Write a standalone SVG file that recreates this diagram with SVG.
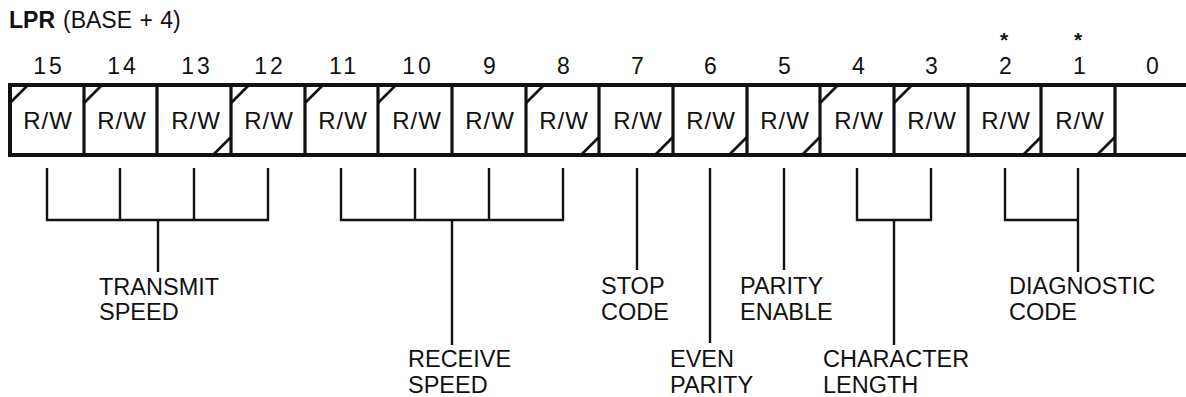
<svg xmlns="http://www.w3.org/2000/svg" width="1186" height="397" viewBox="0 0 1186 397">
<style>
text{font-family:"Liberation Sans",Arial,Helvetica,sans-serif;fill:#111}
.t{font-size:23px}
.n{font-size:23px;text-anchor:middle;letter-spacing:3px}
.ast{font-size:21px;text-anchor:middle;font-weight:bold}
.rw{font-size:24px;text-anchor:middle;letter-spacing:1px}
.lb{font-size:23.5px}
.box{stroke:#111;stroke-width:4;fill:none}
.div{stroke:#111;stroke-width:3.2}
.tick{stroke:#111;stroke-width:2.6}
.con{stroke:#111;stroke-width:2.4;fill:none}
</style>
<rect width="1186" height="397" fill="#fff"/>
<g id="title">
<text class="t" x="9" y="28"><tspan font-weight="bold">LPR</tspan><tspan x="63" word-spacing="1">(BASE + 4)</tspan></text>
</g>
<g id="bitnumbers">
<text class="n" x="49" y="74">15</text>
<text class="n" x="123" y="74">14</text>
<text class="n" x="197" y="74">13</text>
<text class="n" x="270" y="74">12</text>
<text class="n" x="344" y="74">11</text>
<text class="n" x="418" y="74">10</text>
<text class="n" x="491" y="74">9</text>
<text class="n" x="565" y="74">8</text>
<text class="n" x="639" y="74">7</text>
<text class="n" x="712" y="74">6</text>
<text class="n" x="786" y="74">5</text>
<text class="n" x="860" y="74">4</text>
<text class="n" x="933" y="74">3</text>
<text class="n" x="1007" y="74">2</text>
<text class="n" x="1081" y="74">1</text>
<text class="n" x="1154" y="74">0</text>
<text class="ast" x="1004" y="47">*</text>
<text class="ast" x="1078" y="47">*</text>
</g>
<g id="register">
<path class="box" d="M1186,85 H10 V155 H1186"/>
<g class="div">
<line x1="84" y1="85" x2="84" y2="155"/>
<line x1="157" y1="85" x2="157" y2="155"/>
<line x1="231" y1="85" x2="231" y2="155"/>
<line x1="305" y1="85" x2="305" y2="155"/>
<line x1="378" y1="85" x2="378" y2="155"/>
<line x1="452" y1="85" x2="452" y2="155"/>
<line x1="526" y1="85" x2="526" y2="155"/>
<line x1="599" y1="85" x2="599" y2="155"/>
<line x1="673" y1="85" x2="673" y2="155"/>
<line x1="747" y1="85" x2="747" y2="155"/>
<line x1="820" y1="85" x2="820" y2="155"/>
<line x1="894" y1="85" x2="894" y2="155"/>
<line x1="968" y1="85" x2="968" y2="155"/>
<line x1="1041" y1="85" x2="1041" y2="155"/>
<line x1="1115" y1="85" x2="1115" y2="155"/>
</g>
<g class="tick">
<line x1="10" y1="103" x2="28" y2="85"/>
<line x1="84" y1="103" x2="102" y2="85"/>
<line x1="231" y1="103" x2="249" y2="85"/>
<line x1="305" y1="103" x2="323" y2="85"/>
<line x1="378" y1="103" x2="396" y2="85"/>
<line x1="526" y1="103" x2="544" y2="85"/>
<line x1="820" y1="103" x2="838" y2="85"/>
<line x1="894" y1="103" x2="912" y2="85"/>
<line x1="213" y1="155" x2="231" y2="137"/>
<line x1="581" y1="155" x2="599" y2="137"/>
<line x1="655" y1="155" x2="673" y2="137"/>
<line x1="729" y1="155" x2="747" y2="137"/>
<line x1="802" y1="155" x2="820" y2="137"/>
<line x1="1023" y1="155" x2="1041" y2="137"/>
<line x1="1097" y1="155" x2="1115" y2="137"/>
</g>
<g id="cells">
<text class="rw" x="48" y="129">R/W</text>
<text class="rw" x="122" y="129">R/W</text>
<text class="rw" x="196" y="129">R/W</text>
<text class="rw" x="269" y="129">R/W</text>
<text class="rw" x="343" y="129">R/W</text>
<text class="rw" x="417" y="129">R/W</text>
<text class="rw" x="490" y="129">R/W</text>
<text class="rw" x="564" y="129">R/W</text>
<text class="rw" x="638" y="129">R/W</text>
<text class="rw" x="711" y="129">R/W</text>
<text class="rw" x="785" y="129">R/W</text>
<text class="rw" x="859" y="129">R/W</text>
<text class="rw" x="932" y="129">R/W</text>
<text class="rw" x="1006" y="129">R/W</text>
<text class="rw" x="1080" y="129">R/W</text>
</g>
</g>
<g id="connectors" class="con">
<path d="M47,168 V220 H268 V168 M120,168 V220 M194,168 V220 M158,220 V272"/>
<path d="M341,168 V220 H563 V168 M415,168 V220 M489,168 V220 M452,220 V345"/>
<path d="M637,168 V270"/>
<path d="M710,168 V343"/>
<path d="M784,168 V270"/>
<path d="M857,168 V220 H931 V168 M894,220 V345"/>
<path d="M1005,168 V220 H1078 M1078,168 V272"/>
</g>
<g id="label-transmit"><text class="lb" x="99" y="295">TRANSMIT</text><text class="lb" x="99" y="320">SPEED</text></g>
<g id="label-receive"><text class="lb" x="408" y="367">RECEIVE</text><text class="lb" x="408" y="393">SPEED</text></g>
<g id="label-stop"><text class="lb" x="601" y="294">STOP</text><text class="lb" x="601" y="320">CODE</text></g>
<g id="label-even"><text class="lb" x="670" y="367">EVEN</text><text class="lb" x="670" y="393">PARITY</text></g>
<g id="label-parity"><text class="lb" x="740" y="294">PARITY</text><text class="lb" x="740" y="320">ENABLE</text></g>
<g id="label-char"><text class="lb" x="823" y="367">CHARACTER</text><text class="lb" x="823" y="393">LENGTH</text></g>
<g id="label-diag"><text class="lb" x="1009" y="294">DIAGNOSTIC</text><text class="lb" x="1009" y="320">CODE</text></g>
</svg>
